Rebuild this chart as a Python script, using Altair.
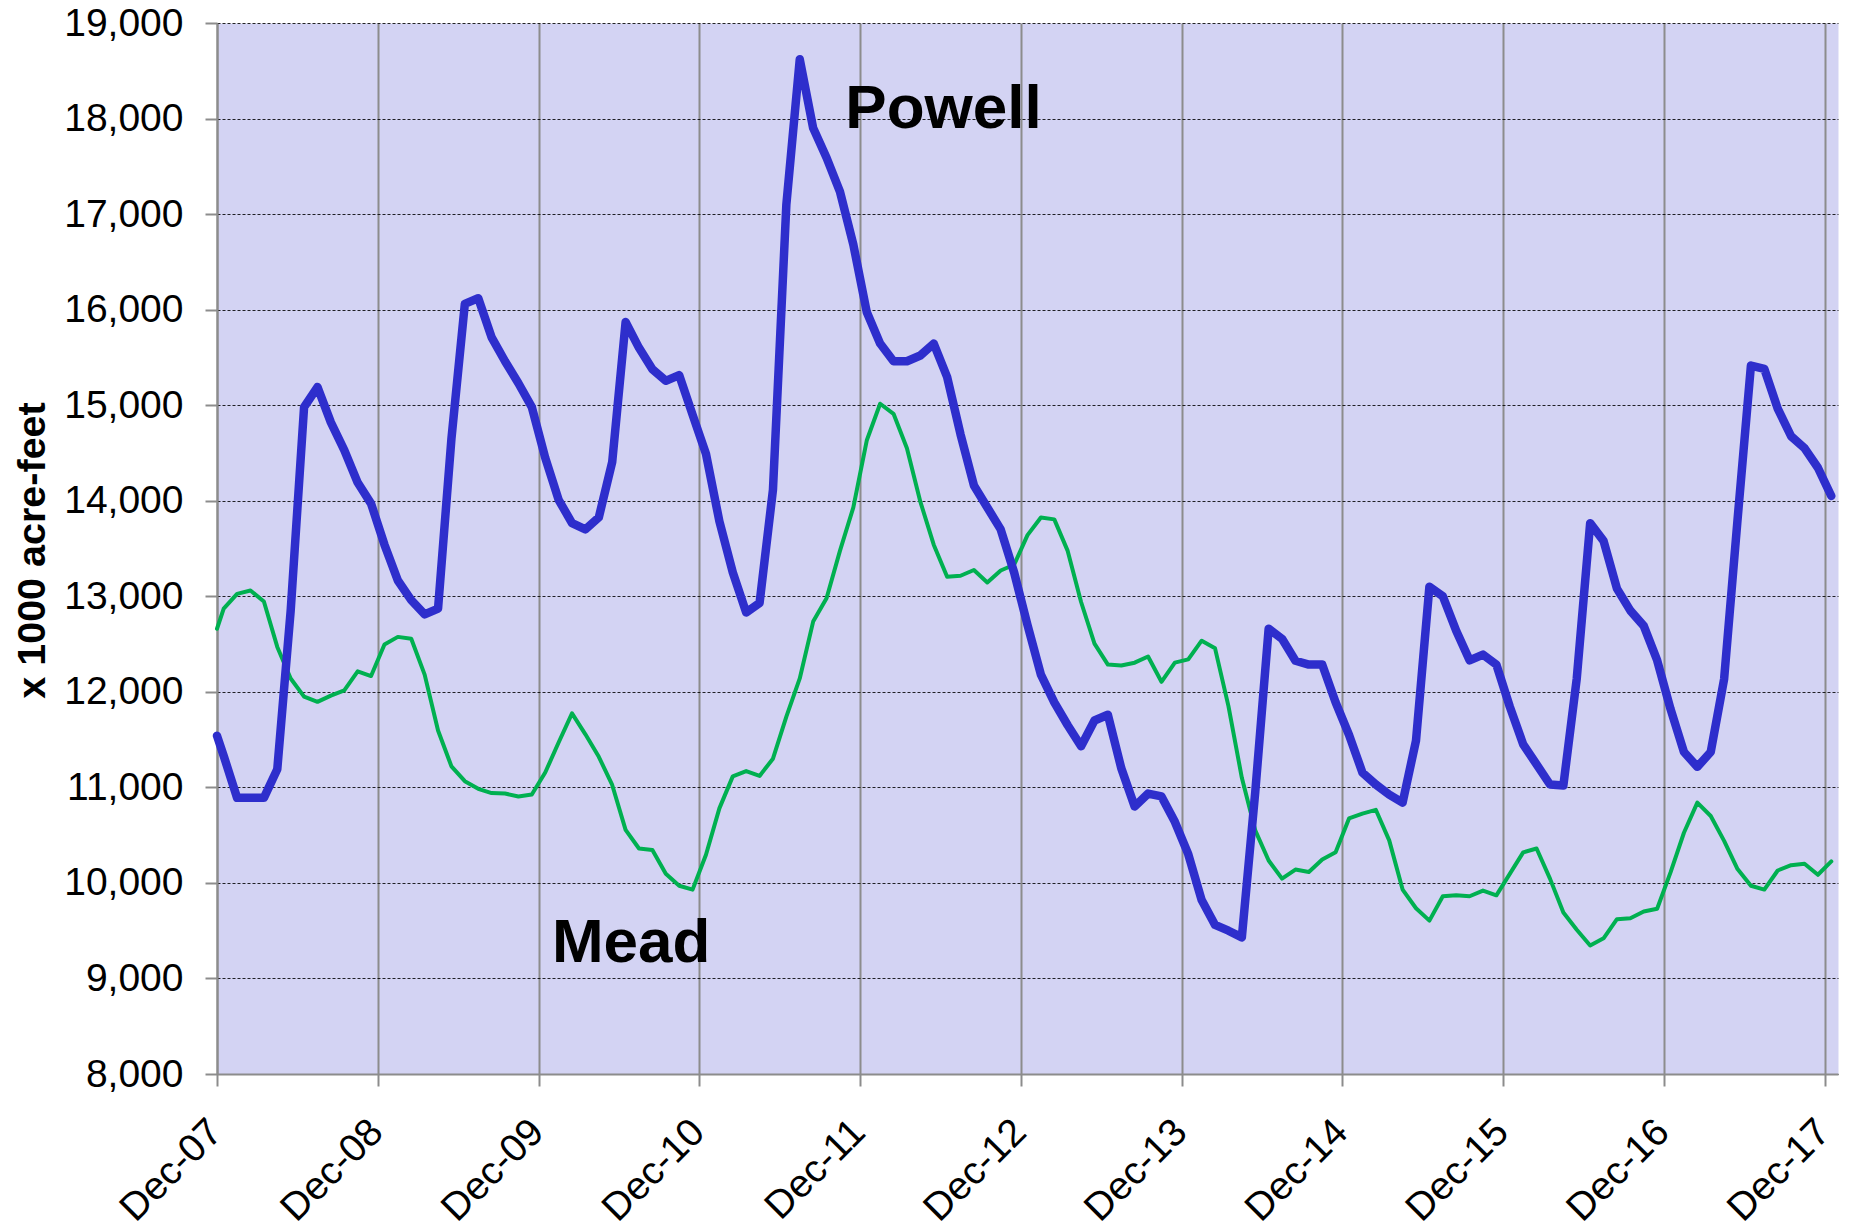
import altair as alt
import pandas as pd

# ---- data ----
x_tick_labels = ["Dec-07", "Dec-08", "Dec-09", "Dec-10", "Dec-11", "Dec-12",
                 "Dec-13", "Dec-14", "Dec-15", "Dec-16", "Dec-17"]

# month index of each sample (first sample sits on the Dec-07 axis, the rest mid-month)
month_pos = [0.0] + [i + 0.5 for i in range(121)]

powell = [11540,
          11330, 10890, 10890, 10890, 11190, 12850, 14980, 15190, 14820, 14530, 14190, 13970,
          13540, 13165, 12960, 12810, 12870, 14650, 16060, 16120, 15710, 15460, 15230, 14980,
          14450, 14010, 13765, 13700, 13825, 14405, 15870, 15600, 15375, 15255, 15315, 14900,
          14490, 13785, 13250, 12830, 12930, 14115, 17100, 18620, 17900, 17590, 17235, 16680,
          15975, 15645, 15460, 15460, 15520, 15645, 15295, 14695, 14160, 13930, 13700, 13250,
          12700, 12180, 11890, 11650, 11430, 11700, 11760, 11200, 10800, 10935, 10905, 10640,
          10300, 9820, 9560, 9500, 9430, 10950, 12660, 12555, 12325, 12285, 12285, 11890,
          11550, 11155, 11030, 10925, 10840, 11490, 13100, 13000, 12640, 12330, 12390, 12285,
          11845, 11450, 11240, 11030, 11020, 12140, 13765, 13580, 13080, 12850, 12690, 12330,
          11820, 11370, 11215, 11370, 12135, 13800, 15415, 15380, 14965, 14675, 14550, 14345,
          14050]

mead = [12660,
        12870, 13025, 13060, 12945, 12470, 12140, 11950, 11895, 11960, 12015, 12215, 12165,
        12495, 12575, 12555, 12180, 11595, 11220, 11065, 10985, 10940, 10935, 10905, 10925,
        11155, 11470, 11775, 11555, 11320, 11025, 10555, 10360, 10345, 10095, 9970, 9930,
        10295, 10780, 11115, 11170, 11120, 11300, 11740, 12140, 12735, 12980, 13475, 13930,
        14630, 15015, 14910, 14550, 13990, 13540, 13205, 13215, 13275, 13145, 13270, 13330,
        13640, 13825, 13805, 13475, 12940, 12505, 12285, 12275, 12305, 12370, 12105, 12305,
        12340, 12535, 12455, 11850, 11100, 10550, 10235, 10045, 10140, 10115, 10245, 10320,
        10675, 10725, 10765, 10445, 9930, 9735, 9605, 9860, 9870, 9860, 9920, 9870,
        10095, 10320, 10360, 10045, 9690, 9510, 9345, 9420, 9620, 9630, 9700, 9730,
        10110, 10525, 10840, 10700, 10440, 10145, 9970, 9930, 10130, 10185, 10200, 10085,
        10225]

label_names = ["Powell", "Mead"]
label_pos = [46.9, 25.0]
label_vals = [17900, 9170]

y_ticks = list(range(8000, 19001, 1000))
x_ticks = [12 * i for i in range(len(x_tick_labels))]

FONT = "Liberation Sans"

df_p = pd.DataFrame({"t": month_pos, "v": powell})
df_m = pd.DataFrame({"t": month_pos, "v": mead})
df_l = pd.DataFrame({"name": label_names, "t": label_pos, "v": label_vals})

label_array = "[" + ",".join("'" + s + "'" for s in x_tick_labels) + "]"

x_enc = alt.X(
    "t:Q",
    scale=alt.Scale(domain=[0, 121], nice=False, zero=False),
    axis=alt.Axis(
        values=x_ticks,
        labelExpr=label_array + "[round(datum.value / 12)]",
        labelAngle=-45,
        labelAlign="right",
        labelBaseline="top",
        labelOffset=-15,
        labelPadding=26,
        labelFontSize=39,
        labelFont=FONT,
        labelColor="#000000",
        labelOverlap=False,
        grid=True,
        gridColor="#8C8C8C",
        gridWidth=2,
        domainColor="#8C8C8C",
        domainWidth=2,
        tickColor="#8C8C8C",
        tickWidth=2,
        tickSize=12,
        title=None,
    ),
)

y_enc = alt.Y(
    "v:Q",
    scale=alt.Scale(domain=[8000, 19000], nice=False, zero=False),
    axis=alt.Axis(
        values=y_ticks,
        format=",d",
        labelFontSize=39,
        labelFont=FONT,
        labelColor="#000000",
        labelPadding=22,
        grid=True,
        gridColor="#000000",
        gridOpacity=0.85,
        gridWidth=1,
        gridDash=[3, 2],
        domainColor="#8C8C8C",
        domainWidth=2,
        tickColor="#8C8C8C",
        tickWidth=2,
        tickSize=12,
        title="x 1000 acre-feet",
        titleFont=FONT,
        titleFontSize=39.5,
        titleFontWeight="bold",
        titleColor="#000000",
        titleX=-185,
        titleY=527,
        titleAlign="center",
        titleBaseline="middle",
        titleAngle=270,
    ),
)

mead_line = alt.Chart(df_m).mark_line(
    color="#00B050", strokeWidth=4, strokeJoin="round", strokeCap="round"
).encode(x=x_enc, y=y_enc)

powell_line = alt.Chart(df_p).mark_line(
    color="#2E2ECC", strokeWidth=8.5, strokeJoin="round", strokeCap="round"
).encode(x=x_enc, y=y_enc)

labels = alt.Chart(df_l).mark_text(
    align="left", baseline="alphabetic", fontSize=62, fontWeight="bold",
    font=FONT, color="#000000"
).encode(x="t:Q", y="v:Q", text="name:N")

chart = alt.layer(mead_line, powell_line, labels).properties(
    width=1621,
    height=1051,
    autosize=alt.AutoSizeParams(type="none"),
    padding={"left": 209, "top": 15, "right": 5, "bottom": 160},
    background="#FFFFFF",
).configure_view(fill="#D3D3F3", stroke="transparent")

chart.save("out.html", embed_options={"renderer": "svg", "actions": False})
